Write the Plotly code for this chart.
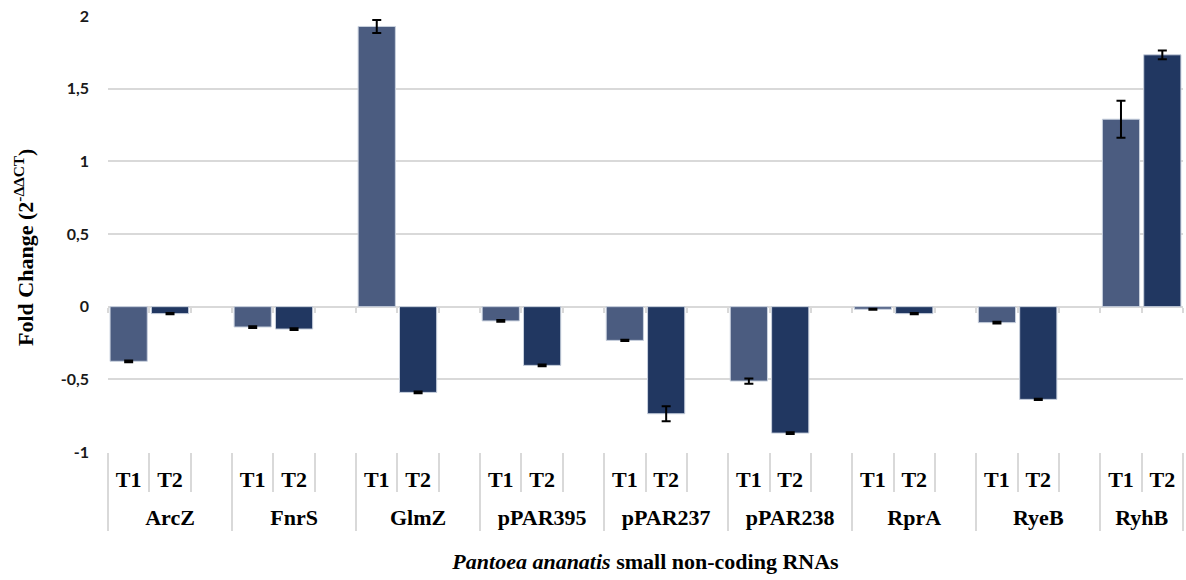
import plotly.graph_objects as go

groups = ["ArcZ", "FnrS", "GlmZ", "pPAR395", "pPAR237", "pPAR238", "RprA", "RyeB", "RyhB"]
t1_values = [-0.376, -0.140, 1.928, -0.098, -0.232, -0.512, -0.018, -0.110, 1.290]
t1_errors = [0.006, 0.006, 0.045, 0.006, 0.005, 0.018, 0.004, 0.006, 0.127]
t2_values = [-0.048, -0.154, -0.590, -0.404, -0.737, -0.870, -0.048, -0.638, 1.733]
t2_errors = [0.005, 0.006, 0.006, 0.006, 0.052, 0.006, 0.005, 0.005, 0.030]
# every group has an empty third slot except the last one
group_slots = [["T1", "T2", ""]] * 8 + [["T1", "T2"]]

y_range = [-1, 2]
y_tickvals = [-1, -0.5, 0, 0.5, 1, 1.5, 2]
y_ticktext = ["-1", "-0,5", "0", "0,5", "1", "1,5", "2"]

T1_COLOR = "#4b5c80"
T2_COLOR = "#213761"
GRID = "#d9d9d9"
serif = "Liberation Serif"

# build slot categories from the data
slot_keys, slot_text = [], []
group_centers, group_bounds = [], [-0.5]
for g, slots in zip(groups, group_slots):
    start = len(slot_keys)
    for s in slots:
        slot_keys.append(f"{g}|{s}")
        slot_text.append(f"<b>{s}</b>" if s else "")
    end = len(slot_keys) - 1
    group_centers.append((start + end) / 2)
    group_bounds.append(end + 0.5)
blank_keys = [k for k, t in zip(slot_keys, slot_text) if t == ""]
n = len(slot_keys)
x_range = [-0.5, n - 0.5]

fig = go.Figure()
fig.add_trace(go.Bar(
    x=[f"{g}|T1" for g in groups], y=t1_values, name="T1",
    marker=dict(color=T1_COLOR, line=dict(color="#c9d1de", width=1)),
    error_y=dict(type="data", array=t1_errors, color="black", thickness=2, width=4.5),
))
fig.add_trace(go.Bar(
    x=[f"{g}|T2" for g in groups], y=t2_values, name="T2",
    marker=dict(color=T2_COLOR, line=dict(color="#c9d1de", width=1)),
    error_y=dict(type="data", array=t2_errors, color="black", thickness=2, width=4.5),
))
fig.add_trace(go.Bar(
    x=blank_keys, y=[0] * len(blank_keys),
    marker=dict(color="rgba(0,0,0,0)", line=dict(width=0)), hoverinfo="skip", showlegend=False,
))
# invisible helpers so the overlay axes are drawn
for ax in ["x2", "x3", "x4"]:
    fig.add_trace(go.Scatter(x=[group_centers[0]], y=[0], xaxis=ax, yaxis="y", mode="markers",
                             marker=dict(opacity=0), hoverinfo="skip", showlegend=False))

fig.update_layout(
    width=1186, height=580,
    margin=dict(l=108, r=3, t=16, b=128),
    paper_bgcolor="white", plot_bgcolor="white",
    barmode="overlay", bargap=0.1,
    showlegend=False,
    separators=", ",
    yaxis=dict(
        range=y_range, tickvals=y_tickvals, ticktext=[f"<b>{t}</b>" for t in y_ticktext],
        showgrid=True, gridcolor=GRID, gridwidth=1.5,
        zeroline=True, zerolinecolor=GRID, zerolinewidth=1.5,
        tickfont=dict(family="Lato", size=16, color="#1a1a1a"),
        ticks="", ticklabelstandoff=18, automargin=False,
    ),
    xaxis=dict(
        type="category", categoryorder="array", categoryarray=slot_keys,
        range=x_range, tickvals=slot_keys, ticktext=slot_text,
        showline=False, showgrid=False,
        ticks="outside", tickson="boundaries", ticklen=39, tickcolor=GRID, tickwidth=1.5,
        tickfont=dict(family=serif, size=22, color="black"),
        ticklabelstandoff=12, automargin=False,
    ),
    xaxis2=dict(
        overlaying="x", anchor="y", side="bottom", range=x_range,
        tickvals=group_centers, ticktext=[f"<b>{g}</b>" for g in groups], ticks="",
        showgrid=False, zeroline=False, showline=False,
        tickfont=dict(family=serif, size=22, color="black"),
        ticklabelstandoff=50, automargin=False,
        title=dict(text="<b><i>Pantoea ananatis</i> small non-coding RNAs</b>",
                   font=dict(family=serif, size=22, color="black"), standoff=24),
    ),
    xaxis3=dict(
        overlaying="x", anchor="y", side="bottom", range=x_range,
        tickvals=group_bounds, showticklabels=False,
        ticks="outside", ticklen=78, tickcolor=GRID, tickwidth=1.5,
        showgrid=False, zeroline=False, showline=False, automargin=False,
    ),
    xaxis4=dict(
        overlaying="x", anchor="free",
        position=(0 - y_range[0]) / (y_range[1] - y_range[0]), range=x_range,
        tickvals=[b - 0.5 for b in range(n + 1)], showticklabels=False,
        ticks="outside", ticklen=5, tickcolor=GRID, tickwidth=1.5,
        showgrid=False, zeroline=False, showline=False, automargin=False,
    ),
    annotations=[dict(
        text="<b>Fold Change (2<sup>-ΔΔCT</sup>)</b>", textangle=-90,
        xref="paper", yref="paper", x=0, y=0.468, xanchor="center", yanchor="middle",
        xshift=-84, showarrow=False,
        font=dict(family=serif, size=22, color="black"),
    )],
)

fig.write_html("out.html")
